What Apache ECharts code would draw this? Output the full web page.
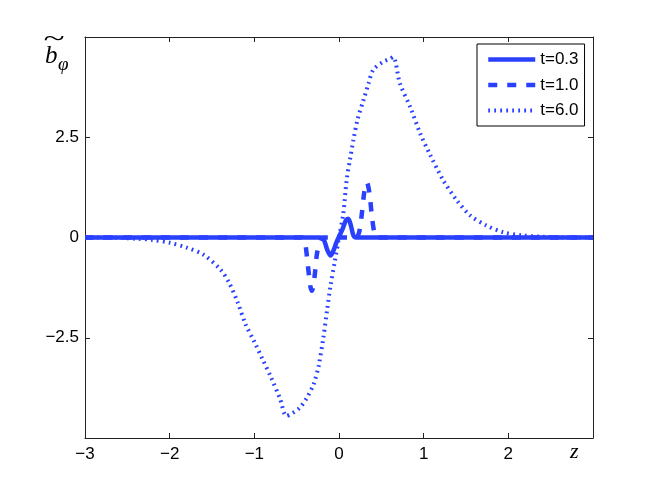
<!DOCTYPE html>
<html>
<head>
<meta charset="utf-8">
<script src="https://cdn.jsdelivr.net/npm/echarts@6/dist/echarts.min.js"></script>
<style>html,body{margin:0;padding:0;background:#fff}#c{width:654px;height:492px}</style>
</head>
<body>
<div id="c"></div>
<script>
// ---- data ----
const seriesNames = ['t=0.3', 't=1.0', 't=6.0'];
const xTicks = [-3, -2, -1, 0, 1, 2, 3];
const yTicks = [-2.5, 0, 2.5];

const zA = [-3, -0.22, -0.18, -0.14, -0.1, -0.07, -0.03, 0.0, 0.04, 0.08, 0.11, 0.14, 0.17, 0.2, 3];
const bA = [0, 0, -0.05, -0.3, -0.45, -0.35, -0.12, 0.02, 0.2, 0.42, 0.47, 0.3, 0.05, 0, 0];

const zB = [-3, -0.44, -0.4, -0.37, -0.34, -0.32, -0.29, -0.26, -0.22, -0.18, 0.2, 0.24, 0.27, 0.3, 0.33, 0.36, 0.39, 0.42, 0.45, 3];
const bB = [0, 0, -0.15, -0.65, -1.2, -1.33, -1.0, -0.4, -0.08, 0, 0, 0.15, 0.6, 1.15, 1.37, 1.1, 0.5, 0.1, 0, 0];

const zC = [-3, -2.6, -2.4, -2.2, -2.0, -1.8, -1.6, -1.4, -1.3, -1.2, -1.1, -1.0, -0.9, -0.8, -0.7, -0.62, -0.55, -0.46, -0.38, -0.3, -0.24, -0.185, -0.14, -0.1, -0.05, 0, 0.05, 0.09, 0.13, 0.17, 0.22, 0.29, 0.35, 0.405, 0.52, 0.6, 0.64, 0.72, 0.84, 0.96, 1.07, 1.23, 1.39, 1.55, 1.74, 1.94, 2.17, 2.4, 2.7, 3];
const bC = [0, -0.01, -0.03, -0.06, -0.13, -0.25, -0.43, -0.8, -1.12, -1.6, -2.18, -2.6, -3.05, -3.5, -4.0, -4.45, -4.38, -4.24, -4.0, -3.66, -3.2, -2.5, -1.8, -1.2, -0.6, 0, 0.59, 1.43, 1.95, 2.43, 2.95, 3.43, 3.85, 4.18, 4.38, 4.45, 4.5, 3.84, 3.26, 2.59, 2.09, 1.43, 0.93, 0.55, 0.30, 0.13, 0.05, 0.02, 0, 0];

const pair = (xs, ys) => xs.map((x, i) => [x, ys[i]]);
const blue = '#2a40ff';
const minus = v => (v < 0 ? '\u2212' + Math.abs(v) : String(v));
const font = 'Liberation Sans, Arial, Helvetica, sans-serif';
const serif = '"Liberation Serif", "DejaVu Serif", serif';

const styles = [
  {color: blue, width: 4.5, type: 'solid'},
  {color: blue, width: 4.5, type: [9, 10]},
  {color: blue, width: 4, type: [1.8, 4.2]}
];

const chart = echarts.init(document.getElementById('c'), null, {renderer: 'canvas'});
const axisLine = {show: true, onZero: false, lineStyle: {color: '#222', width: 1}};
const tick = {show: true, inside: true, length: 5, lineStyle: {color: '#222'}};

chart.setOption({
  animation: false,
  backgroundColor: '#fff',
  grid: {left: 85, right: 61, top: 37, bottom: 54, containLabel: false},
  xAxis: [
    {type: 'value', min: -3, max: 3, interval: 1, position: 'bottom',
     axisLine, axisTick: tick, splitLine: {show: false},
     axisLabel: {fontSize: 17, fontFamily: font, color: '#000', margin: 8,
       formatter: v => (xTicks.includes(v) && v !== 3 ? minus(v) : '')}},
    {type: 'value', min: -3, max: 3, interval: 1, position: 'top',
     axisLine, axisTick: tick, splitLine: {show: false}, axisLabel: {show: false}}
  ],
  yAxis: [
    {type: 'value', min: -5, max: 5, interval: 2.5, position: 'left',
     axisLine, axisTick: tick, splitLine: {show: false},
     axisLabel: {fontSize: 17, fontFamily: font, color: '#000', margin: 6,
       formatter: v => (yTicks.includes(v) ? minus(v) : '')}},
    {type: 'value', min: -5, max: 5, interval: 2.5, position: 'right',
     axisLine, axisTick: tick, splitLine: {show: false}, axisLabel: {show: false}}
  ],
  legend: {
    left: 477, top: 44, orient: 'vertical',
    padding: [7, 6, 7, 9], itemWidth: 47, itemHeight: 14, itemGap: 8.5,
    borderColor: '#000', borderWidth: 1, backgroundColor: '#fff',
    textStyle: {fontSize: 17, fontFamily: font, color: '#000'},
    itemStyle: {opacity: 0},
    data: seriesNames.map((n, i) => ({name: n, lineStyle: styles[i]}))
  },
  series: [
    {name: seriesNames[0], type: 'line', data: pair(zA, bA), symbol: 'none', smooth: 0.3,
     lineStyle: styles[0], itemStyle: {color: blue}, z: 2},
    {name: seriesNames[1], type: 'line', data: pair(zB, bB), symbol: 'none', smooth: 0.3,
     lineStyle: styles[1], itemStyle: {color: blue}, z: 3},
    {name: seriesNames[2], type: 'line', data: pair(zC, bC), symbol: 'none', smooth: 0.3,
     lineStyle: styles[2], itemStyle: {color: blue}, z: 4}
  ],
  graphic: [
    {type: 'text', x: 43, y: 26, scaleX: 1.5, style: {text: '~', font: 'italic 26px ' + serif, fill: '#000'}},
    {type: 'text', left: 45, top: 44, style: {text: 'b', font: 'italic 25px ' + serif, fill: '#000'}},
    {type: 'text', left: 58, top: 55, style: {text: 'φ', font: 'italic 19px ' + serif, fill: '#000'}},
    {type: 'text', left: 570, top: 441, style: {text: 'z', font: 'italic 22px ' + serif, fill: '#000'}}
  ]
});
</script>
</body>
</html>
